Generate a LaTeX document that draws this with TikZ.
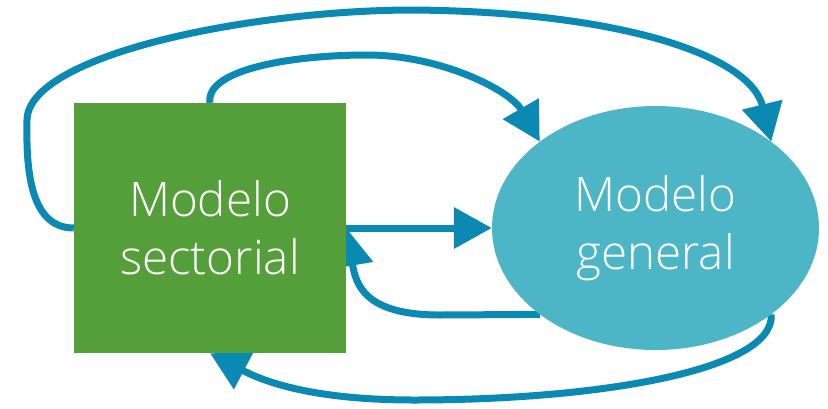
\documentclass[tikz,border=0pt]{standalone}
\usepackage{fontspec}
\setmainfont{Open Sans}[UprightFont=* Light]
\usetikzlibrary{arrows.meta,shapes.geometric}
\definecolor{sqgreen}{HTML}{559F3A}
\definecolor{elteal}{HTML}{4CB6C6}
\definecolor{arrblue}{HTML}{0A89B2}
\pgfdeclarelayer{bg}
\pgfsetlayers{bg,main}
\tikzset{
  conn/.style={draw=arrblue, line width=7pt, -{Triangle[length=38pt,width=40pt]}},
  lbl/.style={text=white, align=center, font=\fontsize{47.5}{58}\selectfont, inner sep=0pt},
}
\begin{document}
\begin{tikzpicture}[x=1pt,y=-1pt]
\useasboundingbox (0,0) rectangle (828,408);
\node[lbl, fill=sqgreen, minimum width=272pt, minimum height=250pt] (sq) at (210,228) {Modelo\\sectorial};
\node[lbl, ellipse, fill=elteal, minimum width=327pt, minimum height=244pt] (el) at (655.5,228) {Modelo\\general};
\begin{pgfonlayer}{bg}
\draw[conn] (sq.east) -- (el.west);
\draw[conn] (sq.north) .. controls (205,70) and (290,55) .. (367,55)
  .. controls (440,55) and (510,90) .. (el.north west);
\draw[conn] (sq.west) .. controls (30,228) and (26,170) .. (27,120)
  .. controls (28,55) and (250,10) .. (414,10)
  .. controls (620,12) and (750,55) .. (el.north east);
\draw[conn] (el.south west) -- (440,315) .. controls (365,315) and (356,285) .. (sq.east);
\draw[conn] (el.south east) .. controls (775,370) and (600,400) .. (414,400)
  .. controls (340,400) and (280,390) .. (sq.south);
\end{pgfonlayer}
\end{tikzpicture}
\end{document}
